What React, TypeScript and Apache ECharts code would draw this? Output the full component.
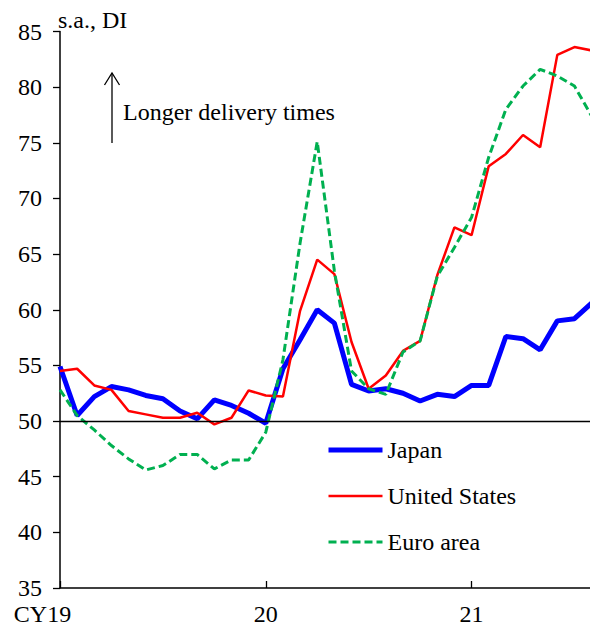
import React, { useEffect, useRef } from "react";
import * as echarts from "echarts";

const months: string[] = [
  "2019-01", "2019-02", "2019-03", "2019-04", "2019-05", "2019-06",
  "2019-07", "2019-08", "2019-09", "2019-10", "2019-11", "2019-12",
  "2020-01", "2020-02", "2020-03", "2020-04", "2020-05", "2020-06",
  "2020-07", "2020-08", "2020-09", "2020-10", "2020-11", "2020-12",
  "2021-01", "2021-02", "2021-03", "2021-04", "2021-05", "2021-06",
  "2021-07", "2021-08",
];

const yearTickLabels: string[] = ["CY19", "20", "21"];

const japan: number[] = [
  54.9, 50.5, 52.2, 53.1, 52.8, 52.3, 52.0, 50.9, 50.2, 51.9, 51.4, 50.7,
  49.8, 54.7, 57.3, 60.0, 58.8, 53.3, 52.7, 52.9, 52.5, 51.8, 52.4, 52.2,
  53.2, 53.2, 57.6, 57.4, 56.4, 59.0, 59.2, 60.6,
];

const unitedStates: number[] = [
  54.5, 54.7, 53.2, 52.8, 50.9, 50.6, 50.3, 50.3, 50.75, 49.7, 50.3, 52.75,
  52.3, 52.2, 59.9, 64.5, 63.2, 57.1, 52.9, 54.1, 56.3, 57.2, 63.1, 67.4,
  66.7, 72.9, 74.0, 75.7, 74.6, 82.9, 83.6, 83.3,
];

const euroArea: number[] = [
  52.8, 50.5, 49.2, 47.8, 46.6, 45.6, 46.0, 47.0, 47.0, 45.7, 46.5, 46.5,
  49.0, 55.5, 66.0, 75.1, 63.5, 54.5, 52.9, 52.4, 56.2, 57.2, 63.0, 65.6,
  68.3, 73.7, 78.0, 80.1, 81.6, 81.0, 80.1, 77.4,
];

const legendNames: string[] = ["Japan", "United States", "Euro area"];

const FONT = "Liberation Serif";

export default function App() {
  const ref = useRef<HTMLDivElement>(null);

  useEffect(() => {
    if (!ref.current) return;
    const chart = echarts.init(ref.current, undefined, { renderer: "svg" });
    const yearLabel = (index: number) => yearTickLabels[Math.floor(index / 12)];
    chart.setOption({
      animation: false,
      textStyle: { fontFamily: FONT },
      grid: { left: 60, top: 31.5, width: 531.6, bottom: 42, containLabel: false },
      legend: {
        orient: "vertical",
        left: 321,
        top: 433,
        itemWidth: 54,
        itemHeight: 24,
        itemGap: 22,
        itemStyle: { opacity: 0 },
        lineStyle: { width: "inherit" },
        textStyle: { fontFamily: FONT, fontSize: 24, color: "#000" },
        data: legendNames,
      },
      xAxis: {
        type: "category",
        data: months,
        boundaryGap: false,
        axisLine: { lineStyle: { color: "#000", width: 1.5 } },
        axisTick: {
          inside: true,
          length: 7,
          lineStyle: { color: "#000", width: 1.3 },
          interval: (index: number) => index % 12 === 0,
        },
        axisLabel: {
          interval: (index: number) => index % 12 === 0,
          margin: 14,
          fontFamily: FONT,
          fontSize: 24,
          color: "#000",
          formatter: (_v: string, index: number) =>
            index === 0 ? "{first|" + yearLabel(index) + "}" : yearLabel(index),
          rich: {
            first: { fontFamily: FONT, fontSize: 24, color: "#000", padding: [0, 35, 0, 0] },
          },
        },
        splitLine: { show: false },
      },
      yAxis: {
        type: "value",
        min: 35,
        max: 85,
        interval: 5,
        axisLine: { show: true, lineStyle: { color: "#000", width: 1.5 } },
        axisTick: { show: true, length: 7, lineStyle: { color: "#000", width: 1.3 } },
        axisLabel: { margin: 18, fontFamily: FONT, fontSize: 24, color: "#000" },
        splitLine: { show: false },
      },
      series: [
        {
          name: legendNames[0],
          type: "line",
          data: japan,
          symbol: "none",
          color: "#0000FF",
          lineStyle: { color: "#0000FF", width: 5 },
          z: 2,
          markLine: {
            silent: true,
            symbol: "none",
            label: { show: false },
            lineStyle: { color: "#000", width: 1.3, type: "solid" },
            data: [{ yAxis: 50 }],
          },
        },
        {
          name: legendNames[1],
          type: "line",
          data: unitedStates,
          symbol: "none",
          color: "#FF0000",
          lineStyle: { color: "#FF0000", width: 2.5 },
          z: 3,
        },
        {
          name: legendNames[2],
          type: "line",
          data: euroArea,
          symbol: "none",
          color: "#00B050",
          lineStyle: { color: "#00B050", width: 3, type: [8, 4] },
          z: 4,
        },
      ],
      graphic: [
        {
          type: "text",
          left: 58,
          top: 8,
          style: { text: "s.a., DI", fontFamily: FONT, fontSize: 24, fill: "#000" },
        },
        {
          type: "line",
          shape: { x1: 112, y1: 143, x2: 112, y2: 73 },
          style: { stroke: "#000", lineWidth: 1.3 },
        },
        {
          type: "polyline",
          shape: { points: [[104.5, 85], [112, 73], [119.5, 85]] },
          style: { stroke: "#000", lineWidth: 1.3, fill: null },
        },
        {
          type: "text",
          left: 123,
          top: 100,
          style: { text: "Longer delivery times", fontFamily: FONT, fontSize: 24, fill: "#000" },
        },
      ],
    });
    return () => chart.dispose();
  }, []);

  return (
    <div
      style={{
        position: "fixed",
        left: 0,
        top: 0,
        width: 590,
        height: 630,
        overflow: "hidden",
        background: "#fff",
      }}
    >
      <div ref={ref} style={{ width: 600, height: 630 }} />
    </div>
  );
}
